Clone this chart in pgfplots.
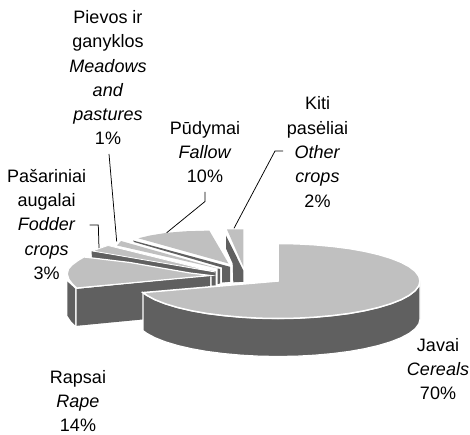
\documentclass[border=0pt]{standalone}
\usepackage{fontspec}
\setmainfont{Liberation Sans}
\usepackage{pgfplots}
\pgfplotsset{compat=1.18}
\definecolor{lite}{HTML}{C0C0C0}
\definecolor{dark}{HTML}{606060}
\tikzset{lab/.style={align=center,font=\fontsize{18}{24.3}\selectfont,text=black,inner sep=0pt}}
\begin{document}
\begin{tikzpicture}
\begin{axis}[scale only axis,width=470pt,height=435pt,xmin=0,xmax=470,ymin=0,ymax=435,y dir=reverse,hide axis,clip=false]
% Other crops 2%
\addplot[fill=dark,draw=none,no marks] coordinates {(226,235.5)(243.3,270.5)(243.3,281.8)(233.3,282.3)(232.7,263.5)(226,248.5)} -- cycle;
\addplot[fill=lite,draw=none,no marks] coordinates {(227,229.5)(243.3,229.5)(243.3,266.5)} -- cycle;
% Fallow 10%
\addplot[fill=dark,draw=none,no marks] coordinates {(133,240.5)(230,266.8)(230,281.8)(222,282.5)(222,267.5)(134,242)} -- cycle;
\addplot[fill=lite,draw=none,no marks] coordinates {(138.3,238.3)(150,235.5)(166.7,232.8)(185,231.3)(209.3,230.6)(228.5,263.5)} -- cycle;
% Meadows and pastures 1%
\addplot[fill=dark,draw=none,no marks] coordinates {(217.7,268.5)(220,269)(220,283.5)(217.7,284)} -- cycle;
\addplot[fill=lite,draw=none,no marks] coordinates {(117,245.5)(121,241)(220,269)} -- cycle;
% Fodder crops 3%
\addplot[fill=dark,draw=none,no marks] coordinates {(91.5,251)(215.7,271.5)(215.7,285.5)(211.7,285.5)(211.7,276.5)(92,258)} -- cycle;
\addplot[fill=lite,draw=white,line width=0.8pt,no marks] coordinates {(92.5,251)(98,249)(108,245.5)(215,272)} -- cycle;
% Rape 14%
\addplot[fill=dark,draw=none,no marks] coordinates {(67.3,281.5)(75,288.5)(75,325)(71,321)(67.3,315.5)} -- cycle;
\addplot[fill=dark,draw=none,no marks] coordinates {(76.7,289)(210,275.5)(210,313)(76.7,325.8)} -- cycle;
\addplot[fill=lite,draw=white,line width=1.2pt,no marks] coordinates {(76.7,288)(72.5,284)(69,279.5)(67.3,274)(68.5,269)(72,265)(78,260.5)(84,257)(130,262.5)(190,273)(210.5,275.5)} -- cycle;
% Cereals 70%
\addplot[fill=dark,draw=white,line width=1.2pt,no marks] coordinates {(420,281)(418.8,285.9)(415.2,290.7)(409.2,295.35)(401,299.75)(390.7,303.8)(378.4,307.5)(364.4,310.75)(349,313.5)(332.3,315.6)(314.8,317.2)(296.5,318.2)(278,318.5)(259.5,318.2)(241.2,317.2)(223.7,315.6)(207,313.5)(191.6,310.75)(177.6,307.5)(165.3,303.8)(155,299.75)(146.8,295.35)(143,292.6)
(143,330.6)(146.8,333.35)(155,337.75)(165.3,341.8)(177.6,345.5)(191.6,348.75)(207,351.5)(223.7,353.6)(241.2,355.2)(259.5,356.2)(278,356.5)(296.5,356.2)(314.8,355.2)(332.3,353.6)(349,351.5)(364.4,348.75)(378.4,345.5)(390.7,341.8)(401,337.75)(409.2,333.35)(415.2,328.7)(418.8,323.9)(420,319)} -- cycle;
\addplot[fill=lite,draw=white,line width=1.5pt,no marks] coordinates {(278,281)(278,243.5)(296.5,243.8)(314.8,244.8)(332.3,246.4)(349,248.5)(364.4,251.25)(378.4,254.5)(390.7,258.2)(401,262.25)(409.2,266.65)(415.2,271.3)(418.8,276.1)(420,281)(418.8,285.9)(415.2,290.7)(409.2,295.35)(401,299.75)(390.7,303.8)(378.4,307.5)(364.4,310.75)(349,313.5)(332.3,315.6)(314.8,317.2)(296.5,318.2)(278,318.5)(259.5,318.2)(241.2,317.2)(223.7,315.6)(207,313.5)(191.6,310.75)(177.6,307.5)(165.3,303.8)(155,299.75)(146.8,295.35)(143,292.6)} -- cycle;
% leader lines
\addplot[black,line width=0.75pt,no marks] coordinates {(109,154)(116.7,241.5)};
\addplot[black,line width=0.75pt,no marks] coordinates {(89.5,225)(98.3,225)(99,248)};
\addplot[black,line width=0.75pt,no marks] coordinates {(205,192)(205,201.5)(166.7,232.7)};
\addplot[black,line width=0.75pt,no marks] coordinates {(283,151)(275,151)(234,228.3)};
% labels
\node[lab] at (axis cs:108,77.7) {Pievos ir\\ganyklos\\\textit{Meadows}\\\textit{and}\\\textit{pastures}\\1\%};
\node[lab] at (axis cs:205,152) {Pūdymai\\\textit{Fallow}\\10\%};
\node[lab] at (axis cs:46.7,224.5) {Pašariniai\\augalai\\\textit{Fodder}\\\textit{crops}\\3\%};
\node[lab] at (axis cs:317.5,152) {Kiti\\pasėliai\\\textit{Other}\\\textit{crops}\\2\%};
\node[lab] at (axis cs:438,369) {Javai\\\textit{Cereals}\\70\%};
\node[lab] at (axis cs:78,401) {Rapsai\\\textit{Rape}\\14\%};
\end{axis}
\useasboundingbox (current axis.south west) rectangle (current axis.north east);
\end{tikzpicture}
\end{document}
